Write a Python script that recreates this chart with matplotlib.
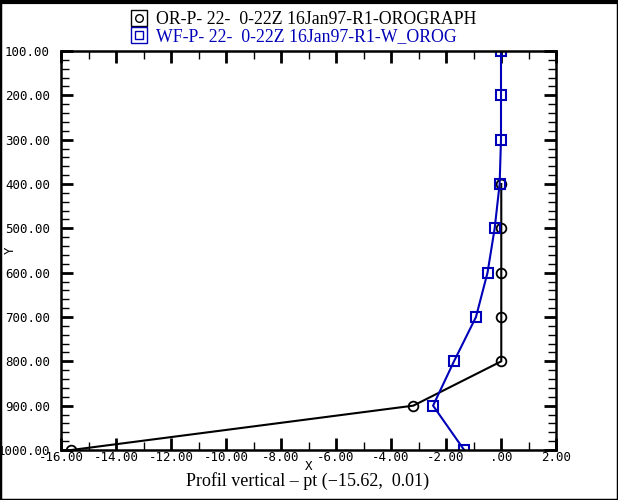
import matplotlib
matplotlib.use("Agg")
import matplotlib.pyplot as plt
from matplotlib.lines import Line2D
from matplotlib.patches import Rectangle
from matplotlib.ticker import MultipleLocator, FuncFormatter

# pressure levels (hPa) and profile values
levels_or = [400, 500, 600, 700, 800, 900, 1000]
values_or = [0.01, 0.01, 0.01, 0.01, 0.01, -3.19, -15.62]

levels_wf = [100, 200, 300, 400, 500, 600, 700, 800, 900, 1000]
values_wf = [0.0, 0.0, 0.0, -0.05, -0.23, -0.49, -0.91, -1.71, -2.47, -1.34]

label_or = "OR-P- 22-  0-22Z 16Jan97-R1-OROGRAPH"
label_wf = "WF-P- 22-  0-22Z 16Jan97-R1-W_OROG"
title_txt = "Profil vertical \u2013 pt (\u221215.62,  0.01)"

BLUE = "#0000b8"
MONO = "DejaVu Sans Mono"
SERIF = "Liberation Serif"

fig = plt.figure(figsize=(6.18, 5.0), dpi=100)
ax = fig.add_axes([61 / 618, 50 / 500, 495 / 618, 399 / 500])

ax.plot(values_or, levels_or, color="black", lw=1.5, marker="o", ms=7,
        mfc="none", mec="black", mew=1.3)
ax.plot(values_wf, levels_wf, color=BLUE, lw=1.5, marker="s", ms=7,
        mfc="none", mec=BLUE, mew=1.5)

ax.set_xlim(-16, 2)
ax.set_ylim(1000, 100)

ax.xaxis.set_major_locator(MultipleLocator(2))
ax.xaxis.set_minor_locator(MultipleLocator(1))
ax.yaxis.set_major_locator(MultipleLocator(100))
ax.yaxis.set_minor_locator(MultipleLocator(20))


def fmt(v, pos):
    s = f"{v:.2f}"
    if s in ("0.00", "-0.00"):
        s = ".00"
    return s


ax.xaxis.set_major_formatter(FuncFormatter(fmt))
ax.yaxis.set_major_formatter(FuncFormatter(fmt))

ax.tick_params(which="both", direction="in", top=True, right=True,
               labelsize=9, color="black")
ax.tick_params(which="major", length=8.5, width=2)
ax.tick_params(which="minor", length=5.5, width=1)
ax.tick_params(axis="x", pad=1)
ax.tick_params(axis="y", pad=8)
for lab in ax.get_xticklabels() + ax.get_yticklabels():
    lab.set_fontfamily(MONO)
for sp in ax.spines.values():
    sp.set_linewidth(1.8)

ax.set_xlabel("X", fontfamily=MONO, fontsize=9, labelpad=-3)
ax.set_ylabel("Y", fontfamily=MONO, fontsize=9, labelpad=0)
ax.yaxis.set_label_coords(-0.09, 0.5)

fig.text(308 / 618, 1 - 481 / 500, title_txt, ha="center", va="center",
         fontfamily=SERIF, fontsize=13)

# legend: marker inside a small box
box_or = Line2D([], [], ls="none", marker="s", ms=11.5, mfc="none", mec="black", mew=1)
dot_or = Line2D([], [], ls="none", marker="o", ms=5.5, mfc="none", mec="black", mew=1)
box_wf = Line2D([], [], ls="none", marker="s", ms=11.5, mfc="none", mec=BLUE, mew=1)
dot_wf = Line2D([], [], ls="none", marker="s", ms=5.5, mfc="none", mec=BLUE, mew=1)
leg = fig.legend([(box_or, dot_or), (box_wf, dot_wf)], [label_or, label_wf],
                 loc="upper left", bbox_to_anchor=(130 / 618, 1 - 11 / 500),
                 frameon=False, handlelength=1.0, handletextpad=0.45,
                 labelspacing=0.0, borderpad=0, borderaxespad=0,
                 prop={"family": SERIF, "size": 12.8})
leg.get_texts()[1].set_color(BLUE)

fig.patches.append(Rectangle((0, 0), 1, 1, transform=fig.transFigure,
                             fill=False, ec="black", lw=2.5))
fig.add_artist(Line2D([0, 1], [0.997, 0.997], transform=fig.transFigure,
                      color="black", lw=3))

fig.savefig("out.png", dpi=100)
